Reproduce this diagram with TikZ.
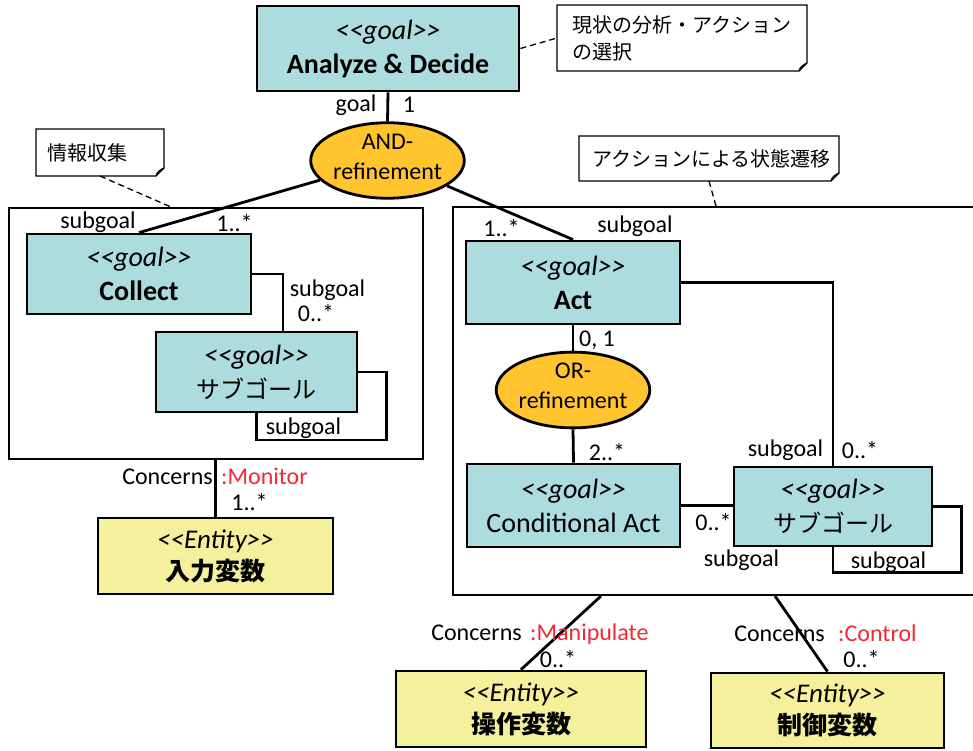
\documentclass[tikz,border=0pt]{standalone}
\usepackage{fontspec}
\setmainfont{Carlito}
\newfontfamily\jp{Noto Sans CJK JP}
\usetikzlibrary{shapes.geometric,calc}

\definecolor{goalfill}{RGB}{173,220,222}
\definecolor{reffill}{RGB}{255,196,46}
\definecolor{entfill}{RGB}{245,240,155}
\definecolor{rolered}{RGB}{238,42,53}

% guillemet-free stereotype brackets
\newcommand\stereo[1]{<\kern0pt<#1>\kern0pt>}
\newcommand\fs[2]{\fontsize{#1}{#2}\selectfont}

\begin{document}
\begin{tikzpicture}[x=1pt,y=-1pt,
  goalbox/.style={draw, line width=2.8pt, fill=goalfill, align=center, inner sep=0pt, font=\fs{28}{34}},
  entbox/.style={draw, line width=2.8pt, fill=entfill, align=center, inner sep=0pt, font=\fs{27}{32}},
  refine/.style={ellipse, draw, line width=2.8pt, fill=reffill, align=center, inner sep=0pt, text depth=8pt, font=\fs{24}{30}},
  pkg/.style={draw, line width=2pt, inner sep=0pt},
  notebox/.style={inner ysep=0pt, outer sep=0pt, align=left, font=\jp\fs{20}{27}},
  noteline/.style={line width=1.3pt},
  tie/.style={line width=1.3pt, dash pattern=on 6pt off 4pt},
  link/.style={line width=2.8pt},
  lbl/.style={inner sep=0pt, font=\fs{24}{28}},
  role/.style={lbl, text=rolered},
]
\useasboundingbox (0,0) rectangle (973,751);
\clip (0,0) rectangle (973,751);

% packages
\node[pkg, minimum width=414, minimum height=251] (lpkg) at (216,333.5) {};
\node[pkg, minimum width=537, minimum height=388] (rpkg) at (721.5,401) {};

% notes
\node[notebox, minimum width=250, minimum height=66, text width=220, inner xsep=15] (n1) at (682,38) {現状の分析・アクション\\の選択};
\node[notebox, minimum width=128, minimum height=47, text width=106, inner xsep=11] (n2) at (100,152.5) {情報収集};
\node[notebox, minimum width=260, minimum height=45, text width=234, inner xsep=13] (n3) at (709,158.5) {アクションによる状態遷移};
\foreach \n in {n1,n2,n3}{
  \draw[noteline] (\n.north west) -- (\n.north east) -- ($(\n.south east)+(0,-8)$)
    -- ($(\n.south east)+(-8,0)$) -- (\n.south west) -- cycle;
  \draw[noteline] ($(\n.south east)+(-8,0)$) .. controls ($(\n.south east)+(-7,-4)$) and ($(\n.south east)+(-4,-6)$) .. ($(\n.south east)+(0,-8)$);
}

% goals
\node[goalbox, minimum width=262, minimum height=85] (ad) at (388,48.5) {{\itshape\stereo{goal}}\\{\bfseries Analyze \& Decide}};
\node[refine, minimum width=151, minimum height=69] (and) at (387.5,160.5) {AND-\\refinement};
\node[goalbox, minimum width=224, minimum height=80] (collect) at (139,274) {{\itshape\stereo{goal}}\\{\bfseries Collect}};
\node[goalbox, minimum width=201, minimum height=80] (subL) at (256.5,372) {{\itshape\stereo{goal}}\\{\jp\fs{24}{34}サブゴール}};
\node[goalbox, minimum width=214, minimum height=83] (act) at (573,282.5) {{\itshape\stereo{goal}}\\{\bfseries Act}};
\node[refine, minimum width=153, minimum height=73] (or) at (573,390) {OR-\\refinement};
\node[goalbox, minimum width=213, minimum height=83] (ca) at (573.5,505.5) {{\itshape\stereo{goal}}\\Conditional Act};
\node[goalbox, minimum width=198, minimum height=79] (subR) at (833,506.5) {{\itshape\stereo{goal}}\\{\jp\fs{24}{34}サブゴール}};

% entities
\node[entbox, minimum width=235, minimum height=76] (ent1) at (215.5,556) {{\itshape\stereo{Entity}}\\{\jp\bfseries\fs{25}{32}入力変数}};
\node[entbox, minimum width=250, minimum height=76] (ent2) at (521,709) {{\itshape\stereo{Entity}}\\{\jp\bfseries\fs{25}{32}操作変数}};
\node[entbox, minimum width=233, minimum height=75] (ent3) at (827.5,710.5) {{\itshape\stereo{Entity}}\\{\jp\bfseries\fs{25}{32}制御変数}};

% note ties
\draw[tie] (ad.east) -- (n1.west);
\draw[tie] (n2.south) -- ($(lpkg.north west)+(163,0)$);
\draw[tie] (n3.south) -- ($(rpkg.north west)+(264,0)$);

% refinement links
\draw[link] (ad.south) -- (and.north);
\draw[link] (and) -- (collect.north);
\draw[link] (and) -- (act.north);
\draw[link] (collect.east) -| ($(subL.north)+(26.5,0)$);
\draw[link] (subL.east) -| ++(28,68) -| (subL.south);
\draw[link] (act.south) -- (or.north);
\draw[link] (or.south) -- (ca.north);
\draw[link] (act.east) -| (subR.north);
\draw[link] (ca.east) -- (ca.east -| subR.west);
\draw[link] (subR.east) -| ++(28,66) -| (subR.south);

% concerns links
\draw[link] (ent1.north) -- (ent1.north |- lpkg.south);
\draw[link] (ent2.north) -- ($(rpkg.south west)+(149,0)$);
\draw[link] (ent3.north) -- ($(rpkg.south west)+(323,0)$);

% role names and multiplicities
\node[lbl] (l1) at (356,105) {goal};
\node[lbl] (l2) at (409,105) {1};
\node[lbl] (l3) at (98,222) {subgoal};
\node[lbl] (l4) at (234.5,223) {1..*};
\node[lbl] (l5) at (327.5,290) {subgoal};
\node[lbl] (l6) at (316,313) {0..*};
\node[lbl] (l7) at (303.5,428) {subgoal};
\node[lbl] (l8) at (501.5,228) {1..*};
\node[lbl] (l9) at (635,226) {subgoal};
\node[lbl] (l10) at (597,340) {0, 1};
\node[lbl] (l11) at (607,452) {2..*};
\node[lbl] (l12) at (785.5,450) {subgoal};
\node[lbl] (l13) at (860,450) {0..*};
\node[lbl] (l14) at (713.5,522) {0..*};
\node[lbl] (l15) at (741.5,560) {subgoal};
\node[lbl] (l16) at (888.5,562) {subgoal};
\node[lbl] (l17) at (249.5,502) {1..*};
\node[lbl] (l18) at (558,659) {0..*};
\node[lbl] (l19) at (861.5,659) {0..*};

\node[lbl, anchor=base east] (c1) at (213,484) {Concerns};
\node[role, anchor=base west] (r1) at (221,484) {:Monitor};
\node[lbl, anchor=base east] (c2) at (522,640) {Concerns};
\node[role, anchor=base west] (r2) at (530,640) {:Manipulate};
\node[lbl, anchor=base east] (c3) at (825,641) {Concerns};
\node[role, anchor=base west] (r3) at (838,641) {:Control};
\end{tikzpicture}
\end{document}
